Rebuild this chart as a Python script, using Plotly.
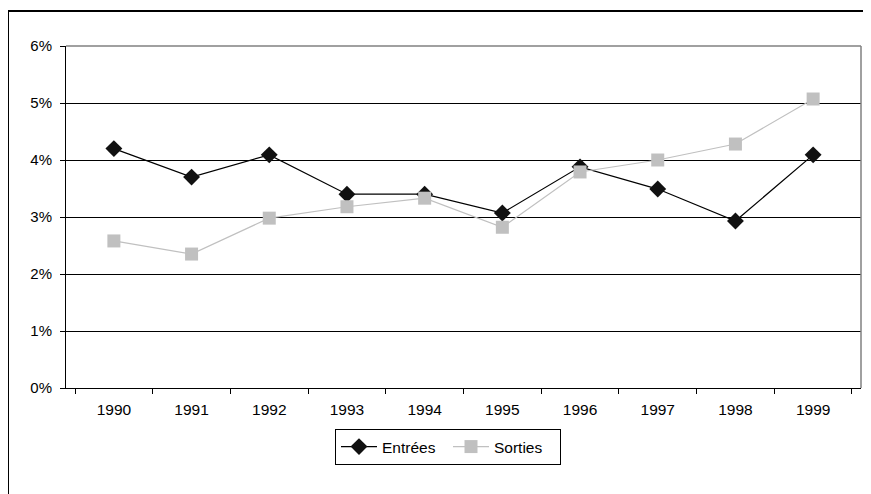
import plotly.graph_objects as go

years = ["1990", "1991", "1992", "1993", "1994", "1995", "1996", "1997", "1998", "1999"]
entrees = [4.20, 3.70, 4.09, 3.40, 3.40, 3.07, 3.88, 3.49, 2.93, 4.09]
sorties = [2.58, 2.35, 2.98, 3.18, 3.33, 2.82, 3.79, 4.00, 4.28, 5.07]
y_ticks = [0, 1, 2, 3, 4, 5, 6]
y_labels = ["0%", "1%", "2%", "3%", "4%", "5%", "6%"]

# page has an 8px body margin; figure coordinates are screen minus 8
OFF = 8
W, H = 871 - OFF, 494 - OFF
L, R, T, B = 66 - OFF, 10, 46 - OFF, 106
pw, ph = W - L - R, H - T - B

def px(x):
    return (x - OFF - L) / pw

def py(y):
    return (H - B - (y - OFF)) / ph

fig = go.Figure()
fig.add_trace(go.Scatter(
    x=years, y=entrees, name="Entrées", mode="lines+markers",
    line=dict(color="#000000", width=1.2),
    marker=dict(symbol="diamond", size=13, color="#111111"),
))
fig.add_trace(go.Scatter(
    x=years, y=sorties, name="Sorties", mode="lines+markers",
    line=dict(color="#c0c0c0", width=1.2),
    marker=dict(symbol="square", size=13, color="#c0c0c0"),
))

fig.update_layout(
    width=W, height=H,
    margin=dict(l=L, r=R, t=T, b=B, autoexpand=False),
    paper_bgcolor="white", plot_bgcolor="white",
    font=dict(family="Liberation Sans, Arial, sans-serif", size=15, color="#000000"),
    showlegend=True,
    legend=dict(
        orientation="h", x=px(335), xanchor="left", y=py(429), yanchor="top",
        bordercolor="#000000", borderwidth=1, bgcolor="white",
        font=dict(size=15.5), tracegroupgap=0, itemwidth=36,
        entrywidth=61, entrywidthmode="pixels",
    ),
    xaxis=dict(
        type="category", categoryorder="array", categoryarray=years,
        showgrid=False, showline=True, linecolor="#000000", linewidth=1,
        ticks="outside", tickson="boundaries", ticklen=5, tickcolor="#000000",
        mirror=False, zeroline=False, automargin=False,
        tickfont=dict(size=15.5), ticklabelstandoff=7,
    ),
    yaxis=dict(
        range=[0, 6], tickvals=y_ticks, ticktext=y_labels,
        showgrid=True, gridcolor="#000000", gridwidth=1,
        showline=True, linecolor="#000000", linewidth=1,
        ticks="outside", ticklen=5, tickcolor="#000000", zeroline=False,
        automargin=False, tickfont=dict(size=15), ticklabelstandoff=5,
    ),
    shapes=[
        dict(type="line", xref="paper", yref="paper", x0=1, x1=1, y0=0, y1=1,
             line=dict(color="#808080", width=1.5)),
        dict(type="line", xref="paper", yref="paper", x0=0, x1=1, y0=1, y1=1,
             line=dict(color="#808080", width=1.5)),
        dict(type="line", xref="paper", yref="paper", x0=px(8), x1=px(8), y0=py(11), y1=py(494),
             line=dict(color="#000000", width=2)),
        dict(type="line", xref="paper", yref="paper", x0=px(8), x1=px(871), y0=py(11), y1=py(11),
             line=dict(color="#000000", width=2)),
    ],
)

fig.write_html("out.html")
